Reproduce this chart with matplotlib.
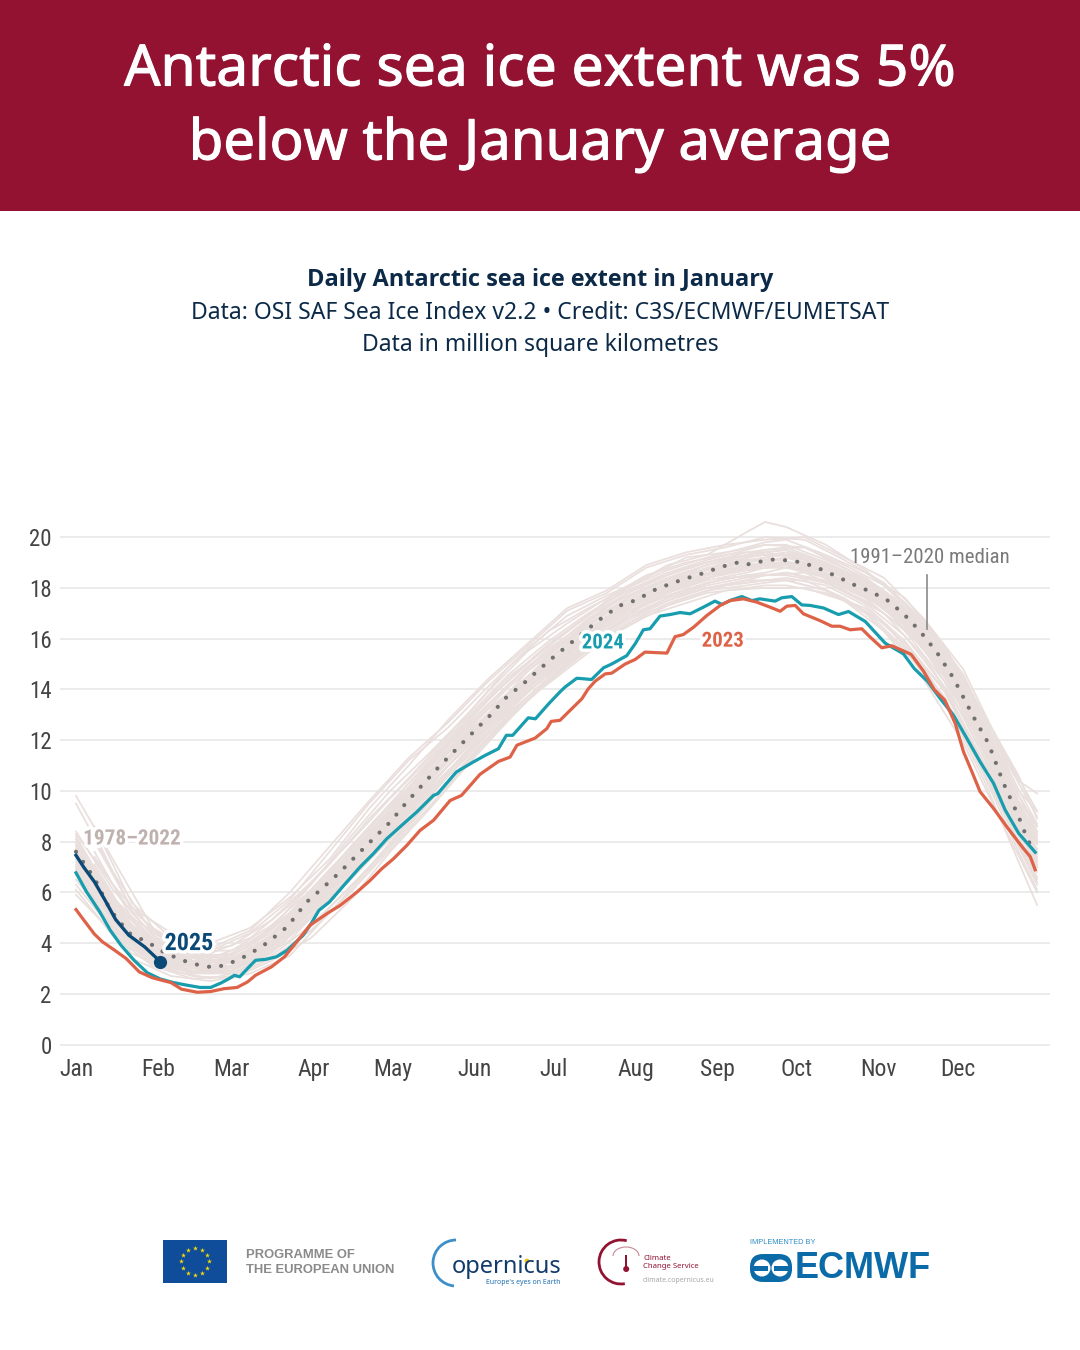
#!/usr/bin/env python
import matplotlib
matplotlib.use('Agg')
from matplotlib import pyplot as plt
from matplotlib import patheffects as pe
from matplotlib.patches import Arc, Circle, FancyBboxPatch, Rectangle

# day of year / extent (million km2)
month_days = [1, 32, 60, 91, 121, 152, 182, 213, 244, 274, 305, 335]
month_names = ['Jan', 'Feb', 'Mar', 'Apr', 'May', 'Jun', 'Jul', 'Aug', 'Sep', 'Oct', 'Nov', 'Dec']
y_ticks = [0, 2, 4, 6, 8, 10, 12, 14, 16, 18, 20]

days_2025 = [1, 4, 8, 12, 16, 21, 27, 33]
ice_2025 = [7.46, 6.98, 6.41, 5.69, 4.93, 4.31, 3.85, 3.26]

days_2024 = [1, 5, 10, 14, 18, 23, 28, 33, 38, 43, 48, 52, 56, 59, 61, 63, 66, 69, 73, 77, 81,
             87, 90, 93, 97, 103.5, 108.6, 113.6, 118.7, 125, 130, 136.4, 138, 145, 151.5, 156, 161,
             164, 166.4, 172.3, 175, 180, 184.3, 186.2, 190.7, 196.3, 200.8, 203.9, 209.6, 212.8,
             215.9, 218.4, 222.2, 226, 229.8, 233.6, 238.6, 243, 245.6, 249.4, 253.2, 257, 260,
             265.8, 268.3, 272.1, 275.9, 279, 284.1, 289.8, 293.6, 299.9, 303.7, 307.5, 314.4,
             318.5, 323.5, 328.3, 333.3, 338.4, 343.4, 348.5, 352.9, 358, 364.3]
ice_2024 = [6.77, 6.02, 5.23, 4.5, 3.92, 3.32, 2.83, 2.58, 2.44, 2.34, 2.25, 2.25, 2.43, 2.6, 2.73, 2.67,
            3.0, 3.32, 3.36, 3.46, 3.72, 4.3, 4.76, 5.29, 5.62, 6.4, 7.0, 7.52, 8.11, 8.7, 9.16, 9.82,
            9.89, 10.74, 11.14, 11.4, 11.66, 12.19, 12.19, 12.88, 12.84, 13.43, 13.9, 14.09, 14.44,
            14.39, 14.85, 15.0, 15.33, 15.8, 16.35, 16.39, 16.89, 16.95, 17.03, 16.98, 17.24, 17.48,
            17.35, 17.53, 17.66, 17.5, 17.57, 17.48, 17.61, 17.66, 17.33, 17.31, 17.21, 16.95, 17.07,
            16.68, 16.25, 15.82, 15.4, 14.82, 14.32, 13.64, 12.99, 12.07, 11.15, 10.3, 9.25, 8.33, 7.58]

days_2023 = [1, 4, 8, 11, 16, 20, 25, 30, 37, 41, 47, 52, 57, 62, 66, 69, 75, 80, 83, 89.6, 96.6, 101,
             107.3, 112.4, 116.8, 121.2, 126.3, 131.3, 136.4, 142.7, 147, 154, 161, 165.4, 168, 174.9,
             179.3, 181, 184.3, 192.6, 195, 197.6, 201.4, 203.9, 209, 212.8, 216.5, 224.8, 227.9, 231,
             234.9, 239.9, 245, 248.7, 253.8, 258.8, 263.9, 267.7, 270.2, 273.4, 276.5, 282.8, 287.3,
             290.4, 294.2, 298.6, 301.8, 306.2, 310, 317.3, 322, 326, 330, 334, 337.1, 340.3, 343.4,
             348.5, 353.5, 359.2, 362.4, 364.3]
ice_2023 = [5.32, 4.9, 4.35, 4.05, 3.69, 3.39, 2.86, 2.63, 2.44, 2.18, 2.06, 2.09, 2.2, 2.25, 2.47, 2.73,
            3.06, 3.46, 3.84, 4.7, 5.2, 5.48, 6.0, 6.47, 6.93, 7.32, 7.85, 8.44, 8.84, 9.62, 9.82, 10.65,
            11.16, 11.33, 11.8, 12.08, 12.45, 12.74, 12.78, 13.63, 14.02, 14.32, 14.61, 14.64, 15.0,
            15.18, 15.47, 15.43, 16.08, 16.16, 16.45, 16.91, 17.31, 17.5, 17.57, 17.44, 17.24, 17.08,
            17.28, 17.31, 16.98, 16.71, 16.49, 16.49, 16.35, 16.39, 16.06, 15.64, 15.72, 15.38, 14.72,
            14.0, 13.58, 12.66, 11.55, 10.76, 9.97, 9.31, 8.59, 7.81, 7.41, 6.89]

days_median = [1, 8, 14, 21, 29, 35, 43, 49, 54, 59, 66, 73, 81, 88.4, 94.7, 101, 107.3, 113.6, 120, 126.3,
               132.6, 138.9, 145.2, 151.5, 157.8, 164.1, 170.4, 175.5, 181.8, 188.1, 194.5, 200.8, 207.1,
               213.4, 219.7, 226, 232.3, 238.6, 245, 251.9, 255, 263.9, 271.5, 276.5, 282.8, 289.2, 295.5,
               301.8, 308.1, 314.4, 320.7, 327, 333.3, 340.9, 346.6, 352.3, 358, 361.7, 364.3]
ice_median = [7.6, 6.55, 5.3, 4.4, 3.98, 3.59, 3.26, 3.09, 3.04, 3.19, 3.52, 3.98, 4.64, 5.62, 6.2, 6.8,
              7.46, 8.11, 8.77, 9.56, 10.28, 11.0, 11.66, 12.32, 12.97, 13.7, 14.22, 14.7, 15.27, 15.8,
              16.35, 16.87, 17.31, 17.53, 17.9, 18.16, 18.38, 18.58, 18.82, 19.01, 18.92, 19.12, 19.08,
              18.99, 18.75, 18.45, 18.13, 17.86, 17.53, 16.98, 16.29, 15.47, 14.45, 12.92, 11.87, 10.3,
              8.99, 8.0, 7.74]

# the 1978-2022 years, thinned out to a reading every couple of weeks
past_days = [1, 15, 30, 45, 60, 75, 90, 105, 120, 135, 150, 165, 180, 195, 210, 225, 240, 255, 262, 270, 285, 300, 315, 330, 345, 358, 365]
past_01 = [9.8, 7.3, 4.6, 3.7, 3.7, 4.7, 6.1, 7.7, 9.4, 11.0, 12.7, 14.2, 15.6, 16.7, 17.6, 18.3, 18.9, 19.3, 19.4, 19.5, 18.9, 18.2, 17.1, 15.4, 12.6, 9.8, 8.6]
past_02 = [9.5, 6.8, 4.4, 3.6, 3.9, 4.9, 6.4, 8.0, 9.7, 11.3, 13.0, 14.6, 15.9, 17.0, 17.9, 18.6, 19.1, 19.5, 19.7, 19.7, 19.1, 18.4, 17.3, 15.5, 12.8, 10.4, 9.9]
past_03 = [8.1, 5.8, 4.2, 3.5, 3.4, 4.3, 5.9, 7.6, 9.3, 11.1, 12.8, 14.4, 15.8, 16.9, 18.0, 18.9, 19.3, 20.2, 20.6, 20.4, 19.7, 18.7, 17.4, 15.6, 12.9, 10.0, 9.2]
past_04 = [7.4, 5.2, 4.0, 3.4, 3.6, 4.6, 6.3, 8.2, 10.0, 11.5, 13.1, 14.9, 16.3, 17.2, 18.0, 18.7, 19.2, 19.6, 19.8, 19.9, 19.3, 18.6, 17.6, 15.7, 13.0, 10.6, 8.9]
past_05 = [6.9, 4.6, 3.3, 2.8, 2.9, 3.7, 5.0, 6.5, 8.1, 9.8, 11.5, 13.0, 14.5, 15.8, 16.8, 17.5, 18.0, 18.2, 18.3, 18.3, 17.9, 17.0, 15.5, 13.6, 10.4, 7.2, 5.5]
past_06 = [6.1, 4.3, 3.1, 2.6, 2.7, 3.4, 4.5, 6.0, 7.7, 9.4, 11.2, 12.9, 14.3, 15.6, 16.6, 17.4, 17.9, 18.1, 18.2, 18.3, 17.9, 17.1, 15.6, 13.7, 10.6, 7.6, 6.1]
past_07 = [5.9, 4.4, 3.2, 2.7, 2.6, 3.3, 4.2, 5.7, 7.6, 9.3, 11.1, 12.8, 14.4, 15.7, 16.5, 17.3, 17.8, 18.0, 18.1, 18.1, 17.8, 17.2, 15.8, 14.0, 11.0, 8.0, 6.6]
past_08 = [8.4, 6.1, 4.3, 3.5, 3.5, 4.5, 6.0, 7.6, 9.2, 11.0, 12.6, 14.2, 15.5, 16.8, 17.7, 18.4, 18.9, 19.2, 19.3, 19.4, 19.0, 18.3, 17.2, 15.3, 12.4, 9.4, 8.3]
past_09 = [8.2, 5.7, 4.0, 3.3, 3.2, 4.0, 5.6, 7.3, 9.0, 10.8, 12.3, 13.9, 15.2, 16.5, 17.6, 18.3, 18.7, 19.1, 19.2, 19.3, 18.9, 18.1, 17.1, 15.2, 12.3, 9.3, 8.0]
past_10 = [7.9, 5.5, 3.9, 3.3, 3.4, 4.2, 5.7, 7.4, 9.1, 10.7, 12.4, 13.7, 15.1, 16.6, 17.5, 18.2, 18.8, 19.0, 19.2, 19.4, 18.8, 18.0, 16.9, 14.9, 11.9, 8.9, 7.9]
past_11 = [7.7, 5.3, 3.8, 3.2, 3.1, 3.9, 5.4, 7.0, 8.7, 10.4, 12.1, 13.7, 14.9, 16.3, 17.3, 18.0, 18.5, 18.8, 18.9, 19.0, 18.6, 17.9, 16.8, 14.9, 11.9, 8.8, 7.5]
past_12 = [7.5, 5.0, 3.6, 3.1, 3.0, 3.8, 5.3, 6.9, 8.5, 10.2, 11.9, 13.5, 14.8, 16.2, 17.2, 17.9, 18.4, 18.7, 18.8, 18.8, 18.5, 17.8, 16.6, 14.7, 11.7, 8.6, 7.2]
past_13 = [7.2, 4.9, 3.6, 3.0, 3.0, 3.9, 5.4, 7.0, 8.6, 10.3, 11.8, 13.4, 14.7, 16.0, 17.0, 17.8, 18.3, 18.6, 18.8, 18.9, 18.4, 17.7, 16.5, 14.5, 11.5, 8.4, 7.0]
past_14 = [6.9, 4.8, 3.5, 3.0, 2.9, 3.7, 5.1, 6.7, 8.4, 10.0, 11.7, 13.3, 14.6, 16.1, 17.1, 17.7, 18.2, 18.5, 18.5, 18.6, 18.3, 17.6, 16.3, 14.3, 11.3, 8.2, 6.8]
past_15 = [6.5, 4.7, 3.4, 2.9, 3.0, 3.8, 5.2, 6.8, 8.3, 10.1, 11.6, 13.2, 14.6, 15.9, 16.9, 17.6, 18.1, 18.4, 18.5, 18.5, 18.2, 17.4, 16.1, 14.1, 11.1, 8.3, 6.5]
past_16 = [8.0, 5.6, 4.1, 3.4, 3.3, 4.2, 5.8, 7.5, 9.1, 10.9, 12.5, 14.1, 15.4, 16.6, 17.5, 18.2, 18.7, 19.0, 19.1, 19.2, 18.7, 18.1, 17.0, 15.1, 12.2, 9.1, 8.2]
past_17 = [7.8, 5.4, 3.9, 3.2, 3.3, 4.1, 5.5, 7.1, 8.9, 10.5, 12.3, 13.9, 15.1, 16.4, 17.4, 18.1, 18.6, 18.9, 19.0, 19.0, 18.7, 18.0, 16.8, 14.8, 11.8, 8.7, 7.6]
past_18 = [7.3, 5.1, 3.7, 3.1, 3.1, 4.0, 5.5, 7.2, 8.7, 10.5, 12.0, 13.6, 14.9, 16.2, 17.3, 18.0, 18.4, 18.7, 18.8, 18.9, 18.5, 17.8, 16.7, 14.8, 11.6, 8.5, 7.3]
past_19 = [7.0, 5.0, 3.6, 3.0, 3.1, 3.9, 5.3, 6.9, 8.6, 10.2, 11.9, 13.5, 14.8, 16.1, 17.1, 17.8, 18.4, 18.8, 18.9, 19.0, 18.6, 17.9, 16.7, 14.6, 11.7, 8.8, 7.7]
past_20 = [6.7, 4.6, 3.4, 2.8, 2.8, 3.6, 5.0, 6.6, 8.2, 9.9, 11.6, 13.1, 14.4, 15.8, 16.8, 17.6, 18.0, 18.3, 18.3, 18.4, 18.1, 17.3, 15.9, 13.9, 10.9, 7.8, 6.3]
past_21 = [8.3, 6.3, 4.5, 3.6, 3.5, 4.4, 5.8, 7.4, 9.0, 10.6, 12.2, 13.8, 15.3, 16.7, 17.8, 18.5, 19.0, 19.3, 19.5, 19.6, 19.0, 18.3, 17.2, 15.2, 12.5, 9.6, 8.6]
past_22 = [7.6, 5.2, 3.8, 3.3, 3.2, 4.3, 6.0, 7.8, 9.5, 11.2, 12.9, 14.5, 15.7, 16.9, 17.8, 18.5, 19.0, 19.4, 19.4, 19.5, 19.0, 18.2, 17.0, 15.0, 12.0, 9.1, 7.9]
past_23 = [7.1, 4.9, 3.5, 2.9, 2.8, 3.5, 4.7, 6.2, 7.9, 9.6, 11.3, 12.9, 14.3, 15.7, 16.7, 17.5, 18.0, 18.3, 18.5, 18.6, 18.2, 17.5, 16.4, 14.6, 11.8, 8.9, 7.5]
past_24 = [6.3, 4.5, 3.3, 2.8, 2.9, 3.8, 5.5, 7.3, 8.9, 10.4, 12.0, 13.5, 14.7, 16.0, 17.0, 17.7, 18.2, 18.5, 18.6, 18.8, 18.4, 17.7, 16.6, 14.7, 11.9, 8.7, 7.1]
past_25 = [7.9, 5.7, 4.1, 3.3, 3.3, 4.2, 5.7, 7.3, 8.9, 10.6, 12.1, 13.6, 15.0, 16.3, 17.2, 17.9, 18.5, 18.9, 19.0, 19.2, 18.8, 18.2, 17.1, 15.3, 12.4, 9.5, 8.4]
past_26 = [7.4, 5.1, 3.7, 3.2, 3.3, 4.0, 5.4, 7.1, 8.8, 10.5, 12.2, 13.8, 15.0, 16.2, 17.2, 18.0, 18.5, 18.8, 18.8, 18.9, 18.5, 17.7, 16.7, 14.9, 12.1, 9.2, 8.0]
past_years = [past_01, past_02, past_03, past_04, past_05, past_06, past_07, past_08, past_09, past_10, past_11, past_12, past_13,
              past_14, past_15, past_16, past_17, past_18, past_19, past_20, past_21, past_22, past_23, past_24, past_25, past_26]

# more of them, read a week later so the vertices do not all line up
late_days = [8, 22, 37, 52, 67, 82, 97, 112, 127, 142, 157, 172, 187, 202, 217, 232, 247, 262, 277, 292, 307, 322, 337, 351, 365]
late_01 = [8.6, 5.6, 4.2, 3.8, 4.5, 6.0, 7.8, 9.6, 11.3, 12.7, 14.3, 15.7, 17.1, 17.8, 18.8, 19.3, 19.6, 20.0, 19.9, 19.1, 18.2, 16.7, 14.6, 11.6, 9.0]
late_02 = [8.0, 5.4, 4.4, 4.0, 4.6, 5.8, 7.3, 9.3, 11.0, 12.8, 14.4, 15.8, 17.2, 17.9, 18.9, 19.4, 19.7, 19.9, 20.0, 19.2, 18.4, 16.8, 14.8, 11.8, 9.2]
late_03 = [7.6, 5.0, 4.0, 3.6, 4.2, 5.5, 7.1, 8.9, 10.5, 12.2, 13.9, 15.5, 16.6, 17.6, 18.5, 19.0, 19.3, 19.5, 19.6, 18.9, 18.1, 16.6, 14.3, 11.3, 8.4]
late_04 = [7.1, 4.7, 3.8, 3.4, 4.0, 5.2, 6.9, 8.5, 10.3, 11.9, 13.6, 15.0, 16.3, 17.5, 18.2, 18.8, 19.2, 19.3, 19.3, 18.6, 17.8, 16.4, 14.1, 10.9, 8.1]
late_05 = [6.9, 4.6, 3.7, 3.2, 3.9, 5.1, 6.6, 8.3, 10.1, 11.8, 13.4, 14.9, 16.0, 17.3, 18.0, 18.6, 18.9, 19.4, 19.1, 18.4, 17.7, 16.2, 13.9, 10.8, 8.0]
late_06 = [6.2, 4.1, 3.4, 3.1, 3.7, 4.8, 6.6, 8.1, 9.9, 11.5, 13.0, 14.7, 15.9, 17.0, 17.7, 18.5, 19.0, 19.1, 19.2, 18.5, 17.5, 16.1, 14.2, 11.0, 8.6]
late_07 = [6.0, 4.0, 3.2, 2.9, 3.3, 4.4, 6.0, 7.6, 9.2, 11.0, 12.7, 14.1, 15.4, 16.7, 17.6, 18.1, 18.6, 18.8, 18.8, 18.0, 17.4, 15.7, 13.4, 10.5, 7.4]
late_08 = [5.6, 3.8, 3.0, 2.8, 3.2, 4.1, 5.8, 7.4, 9.1, 10.8, 12.3, 13.9, 15.2, 16.3, 17.4, 17.9, 18.4, 18.5, 18.6, 17.9, 17.0, 15.3, 13.0, 10.0, 7.0]
late_09 = [5.4, 3.6, 2.9, 2.6, 3.0, 3.8, 5.4, 7.0, 8.8, 10.6, 12.1, 13.7, 14.9, 16.1, 17.0, 17.6, 18.1, 18.3, 18.3, 17.6, 16.6, 14.9, 12.4, 9.4, 6.4]
late_10 = [5.2, 3.4, 2.7, 2.5, 2.8, 3.5, 5.2, 6.9, 8.6, 10.4, 12.0, 13.6, 14.8, 16.0, 16.9, 17.4, 17.9, 18.0, 18.0, 17.5, 16.3, 14.4, 11.9, 8.9, 6.0]
late_11 = [7.4, 5.2, 3.6, 3.3, 3.4, 4.4, 6.1, 7.8, 9.4, 11.0, 12.5, 14.0, 15.6, 16.8, 17.8, 18.3, 18.8, 19.2, 18.9, 18.3, 17.4, 15.9, 13.7, 10.7, 8.3]
late_12 = [6.7, 4.4, 3.5, 3.1, 3.6, 4.9, 6.7, 8.2, 9.8, 11.6, 13.2, 14.5, 15.8, 17.1, 17.6, 18.4, 18.7, 19.0, 19.0, 18.2, 17.6, 16.0, 13.6, 10.3, 7.7]
late_13 = [6.5, 4.2, 3.3, 3.0, 3.5, 4.5, 6.2, 7.9, 9.6, 11.2, 12.8, 14.3, 15.5, 16.9, 17.5, 18.2, 18.9, 18.9, 18.9, 18.1, 17.2, 15.6, 13.2, 10.2, 7.2]
late_14 = [8.3, 5.3, 4.0, 3.7, 4.4, 5.7, 7.6, 9.5, 11.2, 12.5, 14.1, 15.6, 16.9, 17.7, 18.4, 19.2, 19.4, 19.7, 19.6, 18.8, 17.9, 16.5, 14.5, 11.4, 8.7]
late_years = [late_01, late_02, late_03, late_04, late_05, late_06, late_07, late_08, late_09, late_10, late_11, late_12, late_13, late_14]

NARROW = ['Roboto Condensed', 'Roboto', 'DejaVu Sans']
BANNER = '#931232'
NAVY_TXT = '#0C2A47'
TEAL = '#179DAE'
RED = '#DE6247'
NAVY = '#0B4A76'
PAST = '#E9DFDC'
PAST_TXT = '#BFB1AE'

fig = plt.figure(figsize=(10.8, 13.5), dpi=100, facecolor='white')

# page furniture in pixel coordinates
page = fig.add_axes([0, 0, 1, 1])
page.set_xlim(0, 1080)
page.set_ylim(1350, 0)
page.axis('off')
page.add_patch(Rectangle((0, 0), 1080, 211, color=BANNER, lw=0))
thick = [pe.withStroke(linewidth=0.8, foreground='white')]
page.text(540, 71, 'Antarctic sea ice extent was 5%', color='white', fontsize=41, family='Noto Sans', ha='center', va='center', path_effects=thick)
page.text(540, 145, 'below the January average', color='white', fontsize=40.5, family='Noto Sans', ha='center', va='center', path_effects=thick)
page.text(540, 280, 'Daily Antarctic sea ice extent in January', color=NAVY_TXT, fontsize=16.9, family='Open Sans',
          weight='bold', ha='center', va='center')
page.text(540, 313, 'Data: OSI SAF Sea Ice Index v2.2 \u2022 Credit: C3S/ECMWF/EUMETSAT', color=NAVY_TXT, fontsize=16.5,
          family='Noto Sans', ha='center', va='center')
page.text(540, 345, 'Data in million square kilometres', color=NAVY_TXT, fontsize=16.5, family='Noto Sans', ha='center', va='center')

# EU flag
page.add_patch(Rectangle((163, 1240), 64, 43, color='#0F4C9A', lw=0))
star_x = [195, 202, 207, 209, 207, 202, 195, 188, 183, 181, 183, 188]
star_y = [1248, 1250, 1255, 1261, 1268, 1273, 1275, 1273, 1268, 1261, 1255, 1250]
page.scatter(star_x, star_y, marker='*', s=14, color='#F5D90A', lw=0)
page.text(246, 1255, 'PROGRAMME OF', color='#8A8A8A', fontsize=9.4, family='Liberation Sans', weight='bold', va='center')
page.text(246, 1270, 'THE EUROPEAN UNION', color='#8A8A8A', fontsize=9.4, family='Liberation Sans', weight='bold', va='center')

# Copernicus
page.add_patch(Arc((456, 1263), 46, 46, theta1=95, theta2=270, color='#3E8FC9', lw=2))
page.text(452, 1267, 'opernicus', color='#123A6B', fontsize=17, family='Noto Sans', va='center')
page.add_patch(Circle((527, 1261), 2.4, color='#F4C20D', lw=0))
page.text(486, 1283, "Europe's eyes on Earth", color='#1F6FB0', fontsize=5.0, family='Noto Sans', va='center')

# Climate Change Service
page.add_patch(Arc((621, 1262), 44, 44, theta1=80, theta2=285, color='#931232', lw=2))
page.add_patch(Arc((626, 1256), 26, 18, theta1=180, theta2=360, color='#C58A97', lw=0.8))
page.add_patch(Rectangle((625, 1255), 2.4, 12, color='#931232', lw=0))
page.add_patch(Circle((626.2, 1269), 3, color='#931232', lw=0))
page.text(643, 1259, 'Climate', color='#931232', fontsize=5.6, family='Noto Sans', va='center')
page.text(643, 1267, 'Change Service', color='#931232', fontsize=5.6, family='Noto Sans', va='center')
page.text(643, 1281, 'climate.copernicus.eu', color='#A8A8A8', fontsize=5.0, family='Noto Sans', va='center')

# ECMWF
page.text(750, 1243, 'IMPLEMENTED BY', color='#2F8FC4', fontsize=5.3, family='Liberation Sans', va='center')
page.add_patch(FancyBboxPatch((750, 1254), 42, 28, boxstyle='round,pad=0,rounding_size=13', color='#0A6BA8', lw=0))
page.add_patch(Circle((762, 1268), 8.5, color='white', lw=0))
page.add_patch(Circle((780, 1268), 8.5, color='white', lw=0))
page.add_patch(Rectangle((750, 1265.5), 18, 5, color='#0A6BA8', lw=0))
page.add_patch(Rectangle((774, 1265.5), 18, 5, color='#0A6BA8', lw=0))
page.text(795, 1269, 'ECMWF', color='#0A6BA8', fontsize=26, family='Liberation Sans', weight='bold', va='center')

# chart: 0 sits at y=1044.5px and 20 at y=537px, Jan 1 at x=76px, 2.64 px a day
ax = fig.add_axes([60 / 1080, 1 - 1049.6 / 1350, 990 / 1080, 559.6 / 1350])
ax.patch.set_alpha(0)
ax.set_xlim(-5.06, 369.9)
ax.set_ylim(-0.2, 21.86)
for side in ax.spines.values():
    side.set_visible(False)
ax.yaxis.grid(True, color='#E8E8E8', lw=1.2)
ax.set_axisbelow(True)
ax.set_xticks(month_days)
ax.set_xticklabels(month_names, family=NARROW, fontsize=17, color='#444444')
ax.set_yticks(y_ticks)
ax.set_yticklabels(y_ticks, family=NARROW, fontsize=16.5, color='#444444')
ax.tick_params(length=0)
ax.tick_params(axis='x', pad=6)
ax.tick_params(axis='y', pad=6)

for yr in past_years:
    ax.plot(past_days, yr, color=PAST, lw=1.25, solid_joinstyle='round', zorder=2)
for yr in late_years:
    ax.plot(late_days, yr, color=PAST, lw=1.25, solid_joinstyle='round', zorder=2)
ax.plot(days_median, ice_median, color='#707070', lw=3, ls=(0, (0.01, 2.95)), dash_capstyle='round', zorder=3)
ax.plot(days_2024, ice_2024, color=TEAL, lw=2.3, zorder=4)
ax.plot(days_2023, ice_2023, color=RED, lw=2.3, zorder=5)
ax.plot(days_2025, ice_2025, color=NAVY, lw=2.4, zorder=6)
ax.plot(days_2025[-1], ice_2025[-1], 'o', color=NAVY, ms=9.5, mew=0, zorder=7)

halo = [pe.withStroke(linewidth=5, foreground='white')]
ax.text(22.2, 8.1, '1978\u20132022', color=PAST_TXT, fontsize=15.3, weight='bold', family=NARROW, ha='center', va='center',
        path_effects=halo, zorder=8)
ax.text(43.8, 3.98, '2025', color=NAVY, fontsize=17.3, weight='bold', family=NARROW, ha='center', va='center', path_effects=halo, zorder=8)
ax.text(200.6, 15.83, '2024', color=TEAL, fontsize=15, weight='bold', family=NARROW, ha='center', va='center', path_effects=halo, zorder=8)
ax.text(246, 15.9, '2023', color=RED, fontsize=15, weight='bold', family=NARROW, ha='center', va='center', path_effects=halo, zorder=8)
ax.text(324.5, 19.2, '1991\u20132020 median', color='#7A7A7A', fontsize=15, family=NARROW, ha='center', va='center', zorder=8)
ax.plot([323.3, 323.3], [16.4, 18.5], color='#8A8A8A', lw=1.2, zorder=8)

fig.savefig('out.png', dpi=100)
